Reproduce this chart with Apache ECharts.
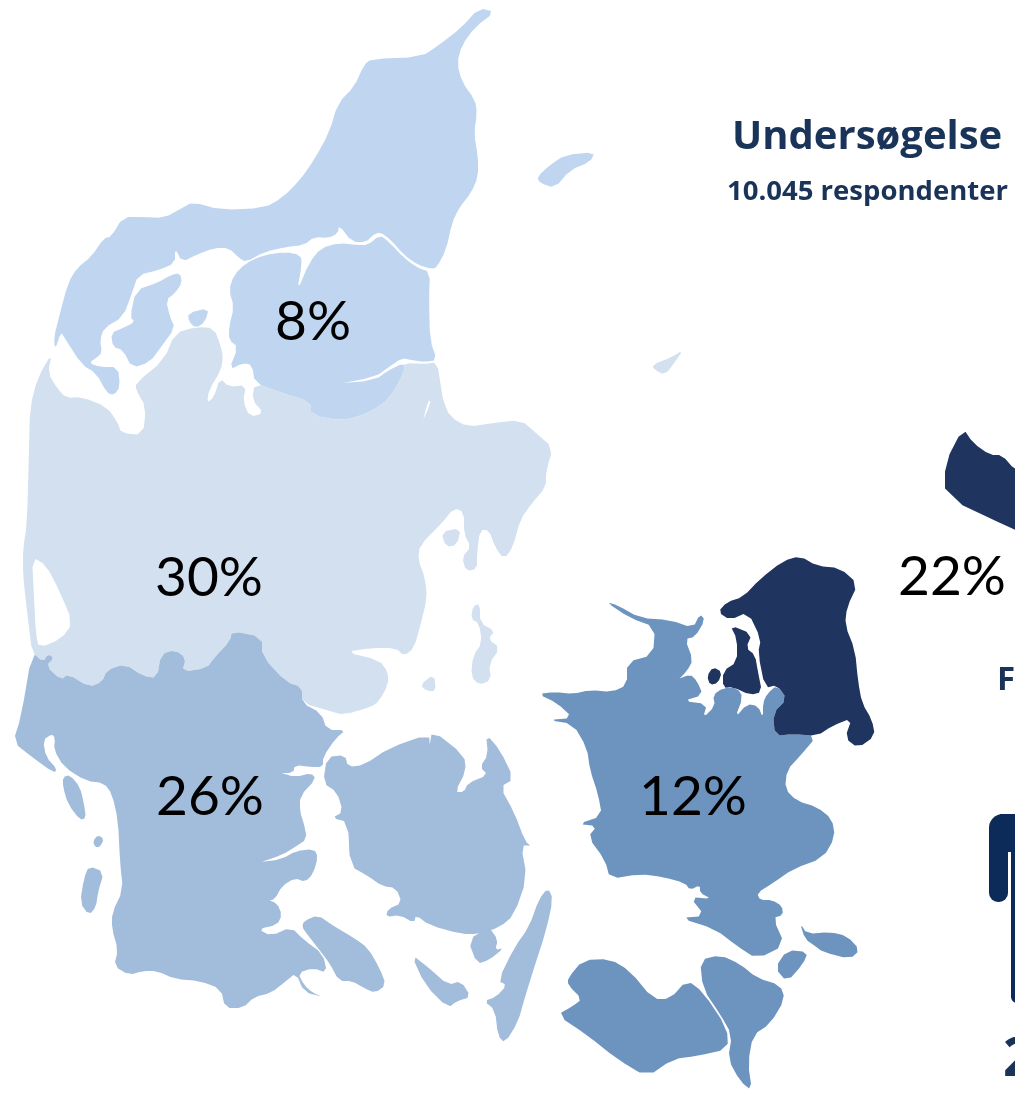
<!DOCTYPE html>
<html>
<head>
<meta charset="utf-8">
<title>Undersøgelse</title>
<style>
  html, body { margin: 0; padding: 0; background: #fff; overflow: hidden; }
  #main { width: 1015px; height: 1094px; }
</style>
<script src="https://cdn.jsdelivr.net/npm/echarts@6/dist/echarts.min.js"></script>
</head>
<body>
<div id="main"></div>
<script>
// share of respondents per region
var regions = ['Nordjylland', 'Midtjylland', 'Syddanmark', 'Sjælland', 'Hovedstaden']
var shares = [8, 30, 26, 12, 22]
var regionColors = ['#bfd5f0', '#d2e0f0', '#a2bcdb', '#6d94bf', '#1f345f']
var heading = 'Undersøgelse'
var subHeading = '10.045 respondenter'

// label anchors, image pixels
var labelPoints = [[313, 322], [209, 578], [210, 797], [693, 797], [952, 577]]

// outlines, in image pixels (y goes down)
var nordjylland = [
  // Vendsyssel + Thy
  [[[479,8],[495,12],[475,27],[462,45],[457,63],[462,82],[475,100],[477,113],[474,133],[478,157],[478,177],[471,193],[459,208],[452,223],[446,250],[437,267],[432,269],[418,265],[404,255],[391,240],[380,232],[373,235],[366,242],[352,242],[339,225],[338,233],[329,238],[314,237],[304,245],[286,247],[264,252],[246,262],[239,258],[229,248],[214,248],[196,255],[182,262],[175,248],[175,263],[159,270],[138,275],[132,293],[123,317],[104,328],[100,340],[102,353],[96,358],[89,363],[100,367],[118,367],[120,387],[114,395],[107,393],[96,373],[82,365],[64,337],[61,332],[55,350],[54,337],[59,317],[68,283],[77,268],[91,257],[104,238],[111,237],[123,217],[143,217],[164,218],[182,208],[193,202],[221,210],[264,208],[282,198],[300,180],[314,160],[329,133],[338,103],[354,87],[364,65],[371,59],[421,57],[439,45],[461,28],[479,8]]],
  // Himmerland
  [[[246,263],[264,255],[286,252],[300,255],[302,263],[297,292],[309,263],[321,248],[339,243],[357,245],[368,245],[380,235],[389,242],[404,258],[418,268],[430,272],[429,300],[430,340],[437,360],[425,362],[411,360],[402,358],[389,367],[375,377],[332,385],[375,380],[389,370],[404,363],[405,370],[391,397],[371,412],[343,421],[311,415],[311,402],[279,392],[255,383],[252,365],[243,363],[229,370],[238,347],[229,340],[229,327],[234,307],[229,290],[234,275],[246,263]]],
  // Mors
  [[[136,290],[157,283],[171,275],[180,273],[182,283],[175,293],[166,300],[170,317],[175,328],[161,347],[150,362],[132,368],[123,350],[113,347],[111,333],[123,328],[135,322],[130,317],[136,290]]],
  // Fur
  [[[188,313],[209,308],[205,322],[196,328],[189,322],[188,313]]],
  // Laesoe
  [[[537,177],[550,165],[565,155],[595,152],[590,162],[570,170],[555,188],[540,183],[537,177]]]
]
var midtjylland = [
  [[[29,450],[30,407],[38,377],[52,353],[48,373],[57,388],[66,398],[82,397],[107,407],[118,423],[121,433],[143,435],[146,407],[136,390],[136,383],[164,360],[175,333],[196,327],[214,328],[221,347],[223,357],[221,370],[209,390],[207,403],[214,397],[220,378],[229,387],[246,385],[243,402],[250,417],[264,413],[252,400],[255,383],[279,392],[311,402],[311,415],[343,421],[371,412],[391,397],[405,370],[404,363],[425,364],[437,362],[441,387],[443,400],[450,417],[468,427],[493,423],[521,420],[536,433],[553,448],[546,471],[546,487],[532,503],[520,520],[513,547],[504,559],[495,547],[489,530],[480,530],[477,553],[477,569],[466,571],[462,557],[471,547],[464,534],[464,512],[454,508],[441,524],[420,545],[418,559],[425,578],[427,598],[421,623],[414,648],[404,656],[396,648],[371,648],[345,652],[379,660],[388,672],[388,685],[379,701],[371,707],[343,715],[330,711],[302,703],[302,687],[286,682],[262,656],[262,637],[232,631],[230,641],[214,658],[207,668],[182,672],[186,658],[175,650],[161,654],[157,678],[143,676],[125,664],[107,670],[102,682],[89,687],[68,674],[61,680],[46,666],[54,658],[48,654],[43,662],[32,652],[29,627],[25,594],[23,573],[23,549],[27,524],[29,450]],
   // Ringkoebing Fjord
   [[32,557],[34,598],[36,635],[39,648],[61,639],[73,623],[59,590],[46,565],[32,557]],
   // inland streak near Randers
   [[428,400],[418,442],[421,425],[431,402],[428,400]]],
  // Samsoe
  [[[473,606],[480,604],[480,623],[495,631],[488,639],[500,648],[489,664],[491,680],[479,685],[471,676],[473,656],[482,643],[479,623],[471,619],[473,606]]],
  [[[420,685],[434,674],[436,691],[427,691],[420,685]]],
  [[[441,532],[461,528],[457,545],[446,547],[441,532]]],
  // Anholt
  [[[652,365],[672,357],[683,350],[675,362],[665,375],[655,370],[652,365]]]
]
var syddanmark = [
  // Soenderjylland
  [[[32,652],[43,662],[48,654],[54,658],[46,666],[61,680],[68,674],[89,687],[102,682],[107,670],[125,664],[143,676],[157,678],[161,654],[175,650],[186,658],[182,672],[207,668],[214,658],[230,641],[232,631],[262,637],[262,656],[286,682],[302,687],[302,703],[321,713],[327,730],[346,730],[336,738],[323,757],[323,767],[311,767],[295,765],[293,773],[278,773],[296,777],[311,773],[316,779],[300,796],[300,812],[304,824],[307,839],[295,847],[282,855],[255,864],[282,859],[296,851],[314,849],[318,857],[313,874],[305,882],[295,878],[282,886],[275,899],[268,901],[277,903],[282,915],[277,925],[258,929],[271,936],[291,927],[304,940],[323,954],[327,973],[313,968],[298,973],[304,985],[313,993],[323,997],[304,992],[296,973],[286,981],[271,993],[254,997],[243,1008],[225,1008],[221,989],[200,981],[175,979],[157,971],[143,971],[129,975],[114,966],[118,950],[112,929],[112,913],[123,890],[120,862],[118,820],[112,794],[104,783],[86,781],[64,767],[54,750],[55,738],[52,734],[43,740],[46,757],[57,769],[54,773],[32,757],[13,742],[21,717],[32,652]]],
  // Fyn
  [[[327,757],[345,755],[348,767],[364,765],[389,748],[429,734],[430,748],[432,730],[464,755],[466,771],[455,792],[464,792],[468,783],[488,775],[480,767],[488,755],[486,734],[500,750],[514,779],[500,787],[514,812],[525,841],[532,847],[521,845],[527,878],[514,915],[500,927],[479,934],[461,934],[429,925],[416,915],[414,923],[400,915],[386,917],[388,909],[402,903],[396,888],[382,886],[368,876],[350,866],[348,822],[332,818],[343,812],[337,792],[323,783],[327,757]]],
  // Als
  [[[304,921],[318,915],[332,925],[354,938],[368,948],[380,969],[386,985],[375,993],[364,988],[352,981],[339,981],[330,964],[321,952],[307,934],[302,927],[304,921]]],
  // Taasinge
  [[[468,940],[489,927],[498,940],[495,950],[504,948],[489,960],[477,964],[468,940]]],
  // Aeroe
  [[[411,954],[429,968],[448,985],[461,981],[471,997],[457,1001],[448,1008],[425,985],[411,954]]],
  // Langeland
  [[[548,888],[553,899],[546,931],[534,968],[525,997],[518,1022],[505,1043],[498,1036],[495,1010],[484,1001],[496,997],[507,985],[498,981],[514,948],[529,927],[539,899],[548,888]]],
  // Fanoe, Mandoe, Roemoe
  [[[63,777],[70,775],[80,787],[84,804],[86,818],[80,820],[68,804],[63,787],[63,777]]],
  [[[93,841],[98,835],[104,839],[100,847],[95,847],[93,841]]],
  [[[89,866],[104,872],[98,892],[96,907],[89,915],[80,903],[84,878],[89,866]]]
]
var sjaelland = [
  [[[538,694],[555,692],[573,694],[590,690],[612,692],[627,685],[627,662],[653,655],[655,627],[630,618],[606,602],[617,605],[640,618],[670,620],[693,628],[700,614],[705,620],[695,637],[685,639],[693,660],[687,671],[677,681],[690,674],[697,681],[703,695],[683,701],[707,704],[703,718],[715,706],[713,695],[723,688],[737,688],[743,697],[735,718],[747,704],[758,706],[763,718],[763,703],[767,694],[777,685],[787,699],[773,713],[775,736],[793,734],[817,736],[800,756],[787,770],[785,789],[797,801],[817,807],[832,819],[835,837],[823,858],[793,869],[773,883],[757,893],[760,900],[772,900],[782,906],[783,915],[773,918],[785,945],[757,959],[737,946],[715,929],[680,918],[705,916],[690,897],[712,899],[700,893],[700,885],[690,890],[685,883],[663,877],[640,874],[610,879],[605,860],[588,837],[597,826],[578,824],[602,816],[598,794],[590,770],[587,748],[573,724],[548,720],[573,718],[557,703],[538,694]]],
  // Moen
  [[[800,923],[807,934],[830,932],[847,936],[860,950],[850,959],[823,952],[815,946],[805,939],[800,923]]],
  // Bogoe
  [[[775,968],[787,950],[808,952],[803,964],[787,982],[775,968]]],
  // Falster
  [[[700,960],[720,955],[740,964],[757,978],[780,985],[785,999],[770,1024],[753,1035],[748,1063],[752,1091],[740,1081],[728,1059],[732,1035],[720,1014],[703,989],[700,960]]],
  // Lolland
  [[[568,978],[583,960],[610,959],[630,971],[653,999],[670,999],[687,980],[703,992],[727,1028],[728,1049],[697,1056],[673,1059],[647,1077],[617,1059],[587,1035],[557,1015],[573,1006],[582,999],[568,985],[568,978]]]
]
var hovedstaden = [
  [[[718,612],[727,602],[743,597],[760,579],[783,561],[800,556],[817,566],[840,568],[858,584],[847,607],[845,625],[855,650],[858,681],[862,703],[872,720],[875,736],[858,748],[845,738],[852,718],[832,726],[817,736],[793,734],[775,736],[773,713],[787,699],[777,685],[765,688],[758,653],[761,639],[748,612],[730,620],[718,612]]],
  // Hornsherred
  [[[730,625],[752,634],[746,648],[755,655],[758,672],[762,692],[750,695],[733,687],[723,688],[723,671],[737,662],[737,639],[730,625]]],
  // Oroe
  [[[707,676],[713,667],[722,672],[718,683],[710,685],[707,676]]],
  // Bornholm, runs off the picture
  [[[963,428],[973,443],[990,455],[1002,455],[1015,470],[1040,480],[1040,540],[1015,530],[945,497],[945,463],[963,428]]]
]

var outlines = [nordjylland, midtjylland, syddanmark, sjaelland, hovedstaden]

// round the traced corners so the coast does not look cut with scissors
function roundRing (ring, passes) {
  var pts = ring.slice(0, -1)
  for (var p = 0; p < passes; p++) {
    var next = []
    pts.forEach(function (a, i) {
      var b = pts[(i + 1) % pts.length]
      next.push([a[0] * 0.75 + b[0] * 0.25, a[1] * 0.75 + b[1] * 0.25])
      next.push([a[0] * 0.25 + b[0] * 0.75, a[1] * 0.25 + b[1] * 0.75])
    })
    pts = next
  }
  pts.push(pts[0])
  return pts
}

var geoJson = {
  type: 'FeatureCollection',
  features: regions.map(function (name, i) {
    return {
      type: 'Feature',
      properties: { name: name, cp: labelPoints[i] },
      geometry: {
        type: 'MultiPolygon',
        coordinates: outlines[i].map(function (poly) {
          return poly.map(function (ring) { return roundRing(ring, 1) })
        })
      }
    }
  })
}
echarts.registerMap('danmark', geoJson)

var myChart = echarts.init(document.getElementById('main'), null, { renderer: 'canvas' })
var option = {
  backgroundColor: '#fff',
  animation: false,
  title: [
    {
      text: heading,
      left: 732,
      top: 118,
      padding: 0,
      textStyle: { fontFamily: 'Open Sans', fontWeight: 'bold', fontSize: 40, color: '#1a3358' }
    },
    {
      text: subHeading,
      left: 727,
      top: 178,
      padding: 0,
      textStyle: { fontFamily: 'Open Sans', fontWeight: 'bold', fontSize: 27.5, color: '#1a3358' }
    }
  ],
  graphic: [
    { type: 'text', x: 997, y: 664, style: { text: 'F', font: 'bold 33px "Open Sans"', fill: '#1a3358' } },
    { type: 'text', x: 1003, y: 1034, style: { text: '2', font: 'bold 54px "Open Sans"', fill: '#1a3358' } },
    // left arm and body edge of the person icon, the rest is off the picture
    { type: 'rect', shape: { x: 989, y: 814, width: 19, height: 88, r: [14, 0, 9, 9] }, style: { fill: '#0c2b59' } },
    { type: 'rect', shape: { x: 1000, y: 814, width: 20, height: 38 }, style: { fill: '#0c2b59' } },
    { type: 'rect', shape: { x: 1011, y: 850, width: 9, height: 153, r: [0, 0, 0, 6] }, style: { fill: '#0c2b59' } }
  ],
  series: [
    {
      type: 'map',
      map: 'danmark',
      projection: {
        project: function (p) { return p },
        unproject: function (p) { return p }
      },
      boundingCoords: [[0, 0], [1015, 1094]],
      left: 0,
      top: 0,
      width: 1015,
      height: 1094,
      roam: false,
      silent: true,
      selectedMode: false,
      label: {
        show: true,
        formatter: '{c}%',
        fontFamily: 'Lato',
        fontSize: 55,
        color: '#000'
      },
      itemStyle: { borderWidth: 0 },
      data: regions.map(function (name, i) {
        return { name: name, value: shares[i], itemStyle: { areaColor: regionColors[i] } }
      })
    }
  ]
}
myChart.setOption(option)
</script>
</body>
</html>
